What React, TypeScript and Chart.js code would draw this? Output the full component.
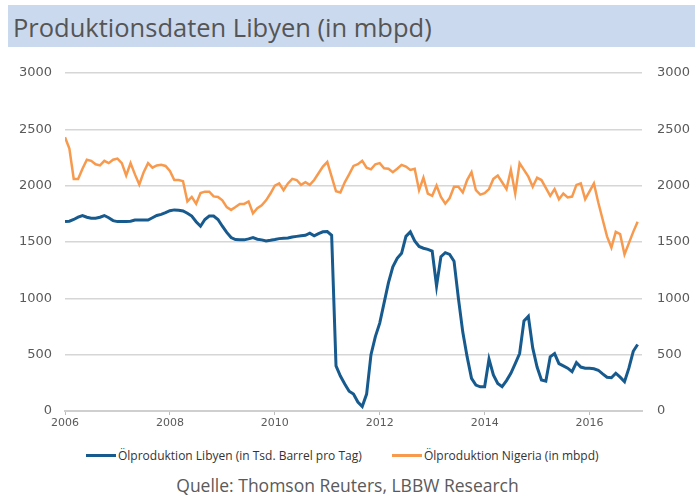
import React, { useEffect, useRef } from "react";
import { Chart, registerables } from "chart.js";

Chart.register(...registerables);

const START_YEAR = 2006;
const yearTicks = [2006, 2008, 2010, 2012, 2014, 2016];
const valueTicks = [0, 500, 1000, 1500, 2000, 2500, 3000];

// Monthly values Jan 2006 - Dec 2016
const libya = [
  1681, 1685, 1700, 1720, 1735, 1720, 1711, 1711, 1720, 1735, 1715, 1690,
  1681, 1681, 1681, 1685, 1695, 1695, 1695, 1695, 1715, 1735, 1745, 1760,
  1778, 1785, 1782, 1775, 1755, 1730, 1680, 1640, 1700, 1730, 1730, 1700,
  1640, 1585, 1540, 1522, 1519, 1519, 1528, 1539, 1525, 1519, 1510, 1515,
  1522, 1530, 1533, 1535, 1545, 1550, 1555, 1560, 1578, 1555, 1575, 1590,
  1592, 1560, 400, 310, 240, 175, 150, 80, 40, 150, 500, 660,
  780, 960, 1140, 1280, 1355, 1400, 1550, 1590, 1510, 1460, 1445, 1435,
  1420, 1110, 1370, 1405, 1390, 1330, 1000, 700, 480, 290, 230, 215,
  215, 460, 320, 245, 216, 270, 335, 420, 510, 800, 840, 560,
  390, 275, 265, 480, 510, 420, 400, 380, 350, 430, 390, 379,
  379, 375, 362, 330, 300, 295, 335, 300, 260, 380, 530, 590,
];

const nigeria = [
  2430, 2330, 2060, 2060, 2150, 2230, 2220, 2190, 2180, 2220, 2200, 2230,
  2240, 2200, 2090, 2200, 2100, 2010, 2120, 2200, 2160, 2180, 2185, 2175,
  2130, 2050, 2050, 2040, 1860, 1900, 1840, 1935, 1947, 1947, 1905, 1900,
  1870, 1810, 1785, 1810, 1838, 1838, 1860, 1755, 1800, 1825, 1870, 1930,
  2000, 2020, 1960, 2020, 2060, 2050, 2007, 2030, 2007, 2050, 2110, 2170,
  2210, 2080, 1950, 1940, 2030, 2100, 2175, 2190, 2220, 2160, 2145, 2190,
  2200, 2155, 2150, 2120, 2150, 2185, 2170, 2140, 2150, 1960, 2070, 1930,
  1910, 2000, 1900, 1840, 1890, 1990, 1990, 1940, 2050, 2120, 1960, 1920,
  1933, 1970, 2060, 2090, 2030, 1970, 2140, 1930, 2200, 2140, 2080, 1990,
  2070, 2050, 1980, 1910, 1970, 1880, 1930, 1895, 1903, 2007, 2020, 1880,
  1950, 2020, 1850, 1700, 1550, 1450, 1590, 1570, 1390, 1490, 1590, 1680,
];

const months = libya.map((_, i) => START_YEAR + i / 12);

const TITLE = "Produktionsdaten Libyen (in mbpd)";
const LEGEND_LIBYA = "Ölproduktion Libyen (in Tsd. Barrel pro Tag)";
const LEGEND_NIGERIA = "Ölproduktion Nigeria (in mbpd)";
const SOURCE = "Quelle: Thomson Reuters, LBBW Research";

const BLUE = "#175a8e";
const ORANGE = "#f79a4e";
const GRID = "#d6d6d6";
const TEXT = "#5a5a5a";

export default function App() {
  const ref = useRef<HTMLCanvasElement>(null);

  useEffect(() => {
    if (!ref.current) return;
    const tickFont = { family: "DejaVu Sans", size: 13 };
    const chart = new Chart(ref.current, {
      type: "line",
      data: {
        datasets: [
          {
            label: LEGEND_LIBYA,
            data: months.map((m, i) => ({ x: m, y: libya[i] })),
            borderColor: BLUE,
            borderWidth: 3,
            pointRadius: 0,
            tension: 0,
            yAxisID: "y",
          },
          {
            label: LEGEND_NIGERIA,
            data: months.map((m, i) => ({ x: m, y: nigeria[i] })),
            borderColor: ORANGE,
            borderWidth: 2.5,
            pointRadius: 0,
            tension: 0,
            yAxisID: "y1",
          },
        ],
      },
      options: {
        animation: false,
        responsive: false,
        maintainAspectRatio: false,
        layout: { padding: { top: 23, bottom: 5, left: 0, right: 0 } },
        plugins: { legend: { display: false }, tooltip: { enabled: false } },
        scales: {
          x: {
            type: "linear",
            min: 2006,
            max: 2017,
            afterBuildTicks: (s: any) => {
              s.ticks = yearTicks.map((v) => ({ value: v }));
            },
            afterFit: (s: any) => {
              s.height = 24;
            },
            ticks: {
              callback: (v: any) => String(v),
              color: TEXT,
              font: { family: "DejaVu Sans", size: 11 },
              padding: 2,
              maxRotation: 0,
              autoSkip: false,
            },
            grid: {
              drawOnChartArea: false,
              drawTicks: true,
              tickLength: 4,
              color: "#bdbdbd",
            },
            border: { display: true, color: "#cfcfcf", width: 2 },
          },
          y: {
            position: "left",
            min: 0,
            max: 3000,
            afterBuildTicks: (s: any) => {
              s.ticks = valueTicks.map((v) => ({ value: v }));
            },
            afterFit: (s: any) => {
              s.width = 65;
            },
            ticks: {
              callback: (v: any) => String(v),
              color: TEXT,
              font: tickFont,
              padding: 13,
            },
            grid: { color: GRID, lineWidth: 1.5, drawTicks: false },
            border: { display: false },
          },
          y1: {
            position: "right",
            min: 0,
            max: 3000,
            afterBuildTicks: (s: any) => {
              s.ticks = valueTicks.map((v) => ({ value: v }));
            },
            afterFit: (s: any) => {
              s.width = 53;
            },
            ticks: {
              callback: (v: any) => String(v),
              color: TEXT,
              font: tickFont,
              padding: 15,
            },
            grid: { drawOnChartArea: false, drawTicks: false },
            border: { display: false },
          },
        },
      },
    });
    return () => chart.destroy();
  }, []);

  const legendItem = (color: string, w: number, text: string, left: number) => (
    <div
      style={{
        position: "absolute",
        left,
        top: 447,
        height: 16,
        display: "flex",
        alignItems: "center",
        fontFamily: "Open Sans",
        fontSize: 12,
        color: "#333",
        whiteSpace: "nowrap",
      }}
    >
      <span style={{ display: "inline-block", width: 30, height: w, background: color, marginRight: 2 }} />
      <span>{text}</span>
    </div>
  );

  return (
    <div style={{ position: "fixed", left: 0, top: 0, width: 695, height: 497, background: "#fff", overflow: "hidden" }}>
      <div
        style={{
          position: "absolute",
          left: 8,
          top: 5,
          width: 687,
          height: 42,
          background: "#cbd9ee",
        }}
      />
      <div
        style={{
          position: "absolute",
          left: 13,
          top: 10,
          fontFamily: "Open Sans",
          fontSize: 25.5,
          lineHeight: "34px",
          color: "#555",
          whiteSpace: "nowrap",
        }}
      >
        {TITLE}
      </div>
      <canvas ref={ref} width={695} height={390} style={{ position: "absolute", left: 0, top: 50, width: 695, height: 390 }} />
      {legendItem(BLUE, 3, LEGEND_LIBYA, 86)}
      {legendItem(ORANGE, 3, LEGEND_NIGERIA, 392)}
      <div
        style={{
          position: "absolute",
          left: 0,
          width: 695,
          top: 474,
          textAlign: "center",
          fontFamily: "Open Sans",
          fontSize: 17.5,
          lineHeight: "22px",
          color: "#5a5a5a",
          whiteSpace: "nowrap",
        }}
      >
        {SOURCE}
      </div>
    </div>
  );
}
